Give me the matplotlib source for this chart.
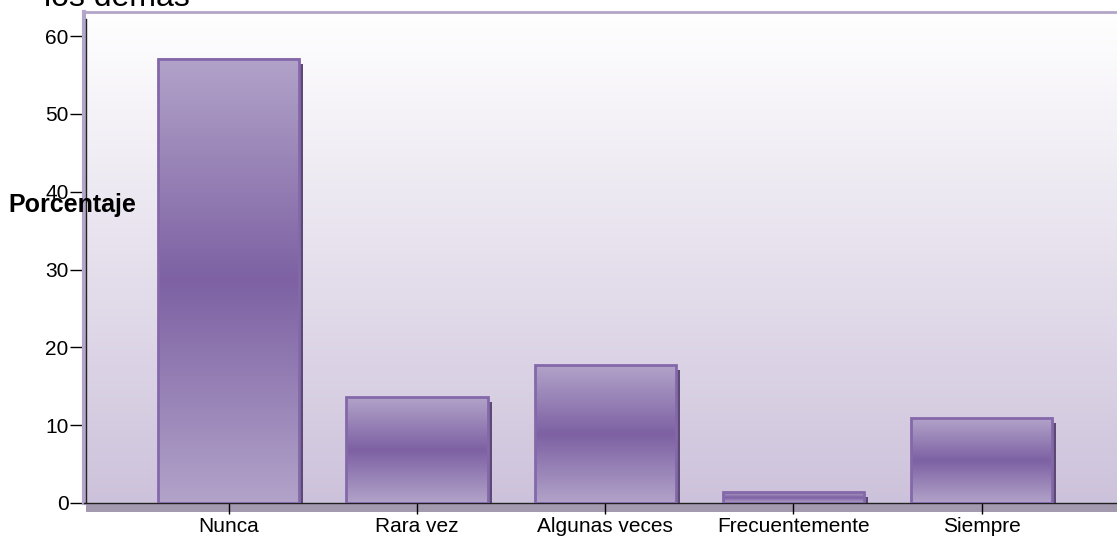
import numpy as np
import matplotlib.pyplot as plt
from matplotlib.colors import LinearSegmentedColormap
from matplotlib.patches import Rectangle
from matplotlib.transforms import ScaledTranslation

plt.rcParams['font.family'] = ['Liberation Sans', 'DejaVu Sans']

categories = ["Nunca", "Rara vez", "Algunas veces", "Frecuentemente", "Siempre"]
values = [57.1, 13.6, 17.7, 1.4, 10.9]
yticks = [0, 10, 20, 30, 40, 50, 60]

fig = plt.figure(figsize=(11.17, 5.37), dpi=100)
ax = fig.add_axes([84 / 1117, 34 / 537, 1 - 84 / 1117, (503 - 12) / 537])
xmin, xmax, ymax = -0.77, 4.72, 63.1

# background gradient
bg = LinearSegmentedColormap.from_list("bg", ["#cdc2db", "#ffffff"])
ax.imshow(np.linspace(0, 1, 256).reshape(-1, 1), cmap=bg, origin="lower",
          extent=[xmin, xmax, 0, ymax], aspect="auto", zorder=0)

# bars: shadow, gradient fill, outline
barcm = LinearSegmentedColormap.from_list("bar", ["#b2a3c9", "#7d61a3", "#b2a3c9"])
w = 0.75
shadow = ax.transData + ScaledTranslation(4 / 100, -5 / 100, fig.dpi_scale_trans)
for i, v in enumerate(values):
    ax.add_patch(Rectangle((i - w / 2, 0), w, v, facecolor="#5c4a74", edgecolor="none",
                           transform=shadow, clip_on=False, zorder=1))
    ax.imshow(np.linspace(0, 1, 256).reshape(-1, 1), cmap=barcm, origin="lower",
              extent=[i - w / 2, i + w / 2, 0, v], aspect="auto", zorder=2)
    ax.add_patch(Rectangle((i - w / 2, 0), w, v, facecolor="none", edgecolor="#8468aa",
                           linewidth=2, zorder=3))
ax.set_xlim(xmin, xmax)
ax.set_ylim(0, ymax)

# strip under the x axis
ax.add_patch(Rectangle((0.002, -0.018), 1, 0.016, transform=ax.transAxes, facecolor="#a49ab0",
                       edgecolor="none", clip_on=False, zorder=1))

ax.spines["right"].set_visible(False)
ax.spines["top"].set_color("#b4a6c8")
ax.spines["top"].set_linewidth(2)
ax.spines["left"].set_color("#b4a6c8")
ax.spines["left"].set_linewidth(3)
ax.spines["bottom"].set_color("#222222")
ax.spines["bottom"].set_linewidth(1)
ax.plot([0.002, 0.002], [0, 0.985], transform=ax.transAxes, color="#222222",
        linewidth=1, zorder=4)

ax.set_yticks(yticks)
ax.set_xticks(range(len(categories)))
ax.set_xticklabels(categories)
ax.tick_params(axis="y", length=10, width=1, labelsize=15, pad=1)
ax.tick_params(axis="x", length=8, width=1, labelsize=15, pad=2)

fig.text(8 / 1117, 1 - 205 / 537, "Porcentaje", fontsize=18, fontweight="bold",
         ha="left", va="center", zorder=5)
fig.text(44 / 1117, 1 - 6 / 537, "los demás", fontsize=23, ha="left", va="baseline")

plt.savefig("out.png", dpi=100)
